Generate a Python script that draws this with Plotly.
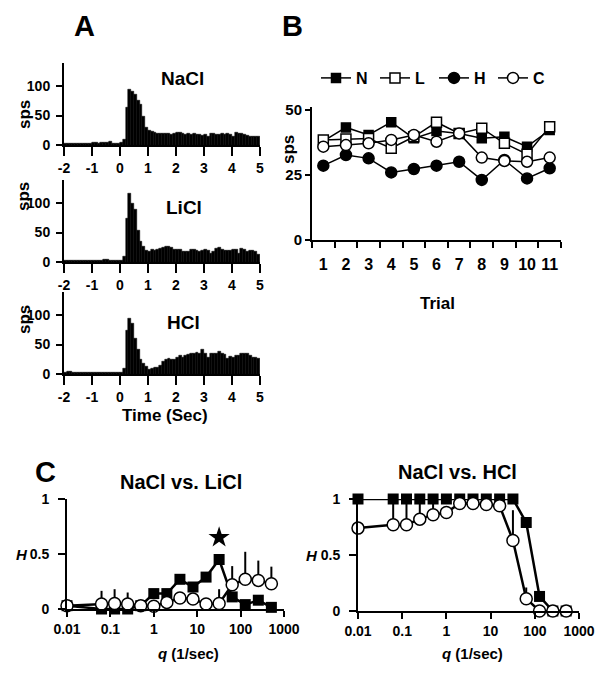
import plotly.graph_objects as go

W, H = 609, 681

# ---------------- data ----------------
# Panel A: PSTH, 0.1 s bins from -2 to 5 s (bin centres)
bin_centers = [round(-1.95 + 0.1 * i, 2) for i in range(70)]
nacl_sps = [2, 2, 2, 2, 2, 2, 2, 3, 3, 3, 5, 4, 3, 4, 4, 5, 6, 3, 3, 3,
            4, 10, 63, 94, 91, 86, 76, 68, 48, 29, 25, 23, 21, 20, 20, 19, 20, 19, 18, 20,
            21, 22, 20, 18, 19, 18, 19, 18, 17, 16, 17, 15, 20, 19, 17, 18, 19, 18, 19, 18,
            15, 21, 20, 19, 17, 16, 14, 15, 15, 15]
licl_sps = [3, 3, 3, 3, 3, 3, 2, 2, 2, 2, 2, 2, 2, 2, 5, 4, 3, 3, 3, 2,
            3, 10, 74, 117, 100, 89, 54, 34, 26, 20, 17, 21, 20, 22, 23, 25, 26, 27, 25, 22,
            22, 21, 18, 17, 18, 22, 21, 19, 17, 20, 22, 19, 15, 18, 23, 24, 22, 20, 20, 19,
            22, 21, 14, 23, 22, 18, 20, 19, 17, 12]
hcl_sps = [3, 4, 4, 3, 2, 2, 2, 3, 2, 2, 2, 3, 3, 3, 2, 2, 2, 2, 2, 2,
           3, 10, 74, 94, 85, 61, 41, 25, 18, 13, 8, 9, 11, 11, 15, 21, 25, 27, 25, 24,
           28, 32, 28, 31, 33, 35, 34, 36, 34, 41, 35, 28, 35, 34, 35, 38, 35, 33, 27, 30,
           28, 32, 31, 34, 34, 34, 31, 28, 28, 27]
time_ticks = [-2, -1, 0, 1, 2, 3, 4, 5]
time_ticktext = ["-2", "-1", "0", "1", "2", "3", "4", "5"]

# Panel B: mean response per trial
trials = [1, 2, 3, 4, 5, 6, 7, 8, 9, 10, 11]
resp_N = [38.0, 43.3, 40.4, 45.3, 39.1, 41.9, 41.0, 39.1, 39.7, 35.9, 42.3]
resp_L = [38.5, 38.8, 39.0, 35.3, 39.7, 45.3, 41.0, 43.0, 37.2, 33.0, 43.6]
resp_H = [28.6, 32.7, 31.4, 26.0, 27.3, 28.6, 30.1, 23.1, 30.8, 23.7, 27.6]
resp_C = [35.9, 36.5, 37.2, 38.5, 40.4, 37.8, 41.0, 31.7, 30.4, 30.1, 31.7]

# Panel C: information H vs q
q_vals = [0.01, 0.0625, 0.125, 0.25, 0.5, 1, 2, 4, 8, 16, 32, 64, 128, 256, 512]
li_sq = [0.03, 0.0, 0.0, 0.0, 0.03, 0.14, 0.14, 0.27, 0.20, 0.29, 0.45, 0.11, 0.04, 0.08, 0.015]
li_ci = [0.03, 0.045, 0.05, 0.045, 0.03, 0.025, 0.06, 0.10, 0.09, 0.045, 0.05, 0.22, 0.27, 0.26, 0.23]
li_ci_err = [0, 0.12, 0.13, 0.105, 0.05, 0, 0, 0, 0, 0, 0.13, 0.17, 0.25, 0.18, 0.155]
hc_sq = [1, 1, 1, 1, 1, 1, 1, 1, 1, 1, 1, 0.79, 0.13, 0, 0]
hc_ci = [0.74, 0.77, 0.77, 0.82, 0.86, 0.88, 0.96, 0.96, 0.95, 0.94, 0.63, 0.11, 0, 0, 0]
hc_ci_err = [0, 0.23, 0.23, 0.18, 0.14, 0, 0, 0, 0, 0, 0.27, 0.10, 0, 0, 0]
star_q = [32]
star_H = [0.65]
q_ticks = [0.01, 0.1, 1, 10, 100, 1000]
q_ticktext = ["0.01", "0.1", "1", "10", "100", "1000"]

# ---------------- helpers ----------------
# the page body adds an 8 px margin, so pixel targets are shifted back by 8
OFF = 8

def fx(px):
    return (px - OFF) / W

def fy(py):
    return 1 - (py - OFF) / H

FONT = "Liberation Sans, Arial, Helvetica, sans-serif"

def tf(size):
    return dict(size=size, family=FONT, weight="bold", color="black")

def axis(**kw):
    d = dict(showline=True, linewidth=2, linecolor="black", ticks="outside",
             tickwidth=2, tickcolor="black", showgrid=False, zeroline=False,
             tickfont=tf(14))
    d.update(kw)
    return d

fig = go.Figure()

# Panel A histograms
for i, vals in enumerate([nacl_sps, licl_sps, hcl_sps]):
    sfx = "" if i == 0 else str(i + 1)
    fig.add_trace(go.Bar(x=bin_centers, y=vals, width=0.1,
                         marker=dict(color="black", line=dict(color="black", width=0.5)),
                         xaxis="x" + sfx, yaxis="y" + sfx, showlegend=False))

# Panel B lines
b_style = [
    ("N", resp_N, "square", "black", 9),
    ("L", resp_L, "square", "white", 10),
    ("H", resp_H, "circle", "black", 11),
    ("C", resp_C, "circle", "white", 11),
]
for name, vals, sym, col, sz in b_style:
    fig.add_trace(go.Scatter(x=trials, y=vals, mode="lines+markers", name=name,
                             line=dict(color="black", width=1.5),
                             marker=dict(symbol=sym, color=col, size=sz,
                                         line=dict(color="black", width=1.5)),
                             xaxis="x4", yaxis="y4", cliponaxis=False))

# Panel C left
fig.add_trace(go.Scatter(x=q_vals, y=li_sq, mode="lines+markers",
                         line=dict(color="black", width=2.5),
                         marker=dict(symbol="square", color="black", size=11),
                         xaxis="x5", yaxis="y5", showlegend=False, cliponaxis=False))
fig.add_trace(go.Scatter(x=q_vals, y=li_ci, mode="lines+markers",
                         line=dict(color="black", width=2.5),
                         marker=dict(symbol="circle", color="white", size=12,
                                     line=dict(color="black", width=1.5)),
                         error_y=dict(type="data", symmetric=False, array=li_ci_err,
                                      arrayminus=[0] * len(li_ci_err), width=0,
                                      thickness=2, color="black"),
                         xaxis="x5", yaxis="y5", showlegend=False, cliponaxis=False))
fig.add_trace(go.Scatter(x=star_q, y=star_H, mode="markers",
                         marker=dict(symbol="star", color="black", size=16),
                         xaxis="x5", yaxis="y5", showlegend=False, cliponaxis=False))

# Panel C right
fig.add_trace(go.Scatter(x=q_vals, y=hc_sq, mode="lines+markers",
                         line=dict(color="black", width=2.5),
                         marker=dict(symbol="square", color="black", size=11),
                         xaxis="x6", yaxis="y6", showlegend=False, cliponaxis=False))
fig.add_trace(go.Scatter(x=q_vals, y=hc_ci, mode="lines+markers",
                         line=dict(color="black", width=2.5),
                         marker=dict(symbol="circle", color="white", size=12,
                                     line=dict(color="black", width=1.5)),
                         error_y=dict(type="data", symmetric=False, array=hc_ci_err,
                                      arrayminus=[0] * len(hc_ci_err), width=0,
                                      thickness=2, color="black"),
                         xaxis="x6", yaxis="y6", showlegend=False, cliponaxis=False))

layout = dict(
    width=W, height=H, margin=dict(l=0, r=0, t=0, b=0, pad=0, autoexpand=False),
    paper_bgcolor="white", plot_bgcolor="white",
    font=dict(family=FONT, color="black", size=14, weight="bold"),
    bargap=0,
    showlegend=True,
    legend=dict(orientation="h", x=fx(316), y=fy(78), xanchor="left", yanchor="middle",
                font=tf(16), bgcolor="rgba(0,0,0,0)",
                itemwidth=30, tracegroupgap=0, entrywidth=14, entrywidthmode="pixels"),
)

# hist axes
hist_zero = [145, 262, 374]
for i, z in enumerate(hist_zero):
    sfx = "" if i == 0 else str(i + 1)
    layout["xaxis" + sfx] = axis(domain=[fx(64), fx(260)], range=[-2, 5],
                                 tickmode="array", tickvals=time_ticks, ticktext=time_ticktext,
                                 ticklen=9, anchor="y" + sfx)
    layout["yaxis" + sfx] = axis(domain=[fy(z), fy(z - 82.5)], range=[0, 140],
                                 tickmode="array", tickvals=[0, 50, 100], ticklen=6,
                                 ticklabelstandoff=3, anchor="x" + sfx)

# panel B axes
layout["xaxis4"] = axis(domain=[fx(312), fx(561)], range=[0.5, 11.5], tickmode="array",
                        tickvals=trials, ticklen=9, tickcolor="rgba(0,0,0,0)",
                        tickfont=tf(16),
                        minor=dict(tickmode="array", tickvals=[0.5 + k for k in range(12)],
                                   ticks="outside", ticklen=6, tickwidth=2, tickcolor="black"),
                        anchor="y4")
layout["yaxis4"] = axis(domain=[fy(240), fy(240 - 51 * 2.6)], range=[0, 51], tickmode="array",
                        tickvals=[0, 25, 50], ticklen=5, tickfont=tf(15),
                        anchor="x4")

# panel C axes
for sfx, xd, z in [("5", (67, 284), 609), ("6", (358, 579), 611)]:
    layout["xaxis" + sfx] = axis(type="log", domain=[fx(xd[0]), fx(xd[1])], range=[-2, 3],
                                 tickmode="array", tickvals=q_ticks, ticktext=q_ticktext,
                                 ticklen=6, anchor="y" + sfx)
    layout["yaxis" + sfx] = axis(domain=[fy(z), fy(499)], range=[0, 1], tickmode="array",
                                 tickvals=[0, 0.5, 1], ticktext=["0", "0.5", "1"],
                                 ticklen=7, ticklabelstandoff=6, anchor="x" + sfx)

fig.update_layout(**layout)

def ann(text, x, y, size, angle=0, xanchor="center"):
    fig.add_annotation(text=text, x=fx(x), y=fy(y), xref="paper", yref="paper",
                       showarrow=False, textangle=angle, xanchor=xanchor, yanchor="middle",
                       font=tf(size))

ann("A", 84, 26, 29)
ann("B", 292, 26, 29)
ann("C", 45, 472, 29)
ann("NaCl", 182, 78, 19)
ann("LiCl", 184, 207, 19)
ann("HCl", 183, 322, 19)
ann("sps", 24, 115, 17, -90)
ann("sps", 24, 197, 17, -90)
ann("sps", 24, 320, 17, -90)
ann("Time (Sec)", 165, 415, 17)
ann("sps", 288, 150, 17, -90)
ann("Trial", 437, 303, 17)
ann("NaCl vs. LiCl", 181, 482, 20)
ann("NaCl vs. HCl", 457, 472, 20)
ann("<i>H</i>", 22, 554, 15)
ann("<i>H</i>", 312, 555, 15)
ann("<i>q</i> (1/sec)", 188, 653, 15)
ann("<i>q</i> (1/sec)", 472, 653, 15)

fig.write_html("out.html")
